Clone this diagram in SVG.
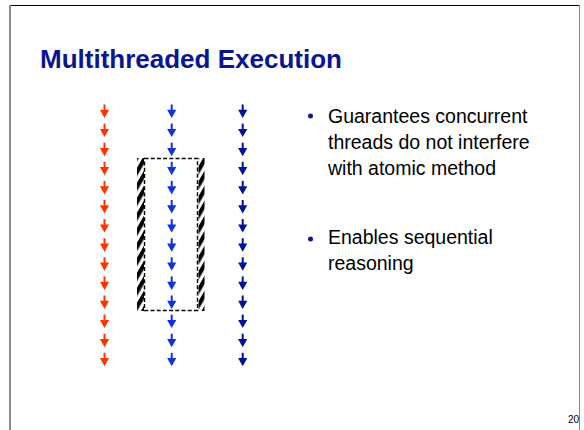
<svg xmlns="http://www.w3.org/2000/svg" xmlns:xlink="http://www.w3.org/1999/xlink" width="584" height="430" viewBox="0 0 584 430">
  <style>
    .title { font-family: "Liberation Sans", Arial, sans-serif; font-weight: bold; font-size: 26px; fill: #0a1690; }
    .body { font-family: "Liberation Sans", Arial, sans-serif; font-size: 19.5px; fill: #000000; }
    .pageno { font-family: "Liberation Sans", Arial, sans-serif; font-size: 10px; fill: #000000; }
    .bullet { fill: #10169a; }
    .red { fill: #ff3300; }
    .blue { fill: #1133dd; }
    .navy { fill: #001199; }
    .frame-top { stroke: #000000; stroke-width: 1; }
    .frame-side { stroke: #888888; }
    .dash { fill: none; stroke: #000000; stroke-width: 1.4; stroke-dasharray: 4 2.2; }
  </style>
  <defs>
    <!-- one step of a thread: short shaft plus arrowhead, tip at origin -->
    <g id="step">
      <rect x="-1" y="-13.5" width="2" height="6"/>
      <polygon points="-4.6,-8.2 4.6,-8.2 0,0"/>
    </g>
    <!-- slanted black hatching for the block edges -->
    <pattern id="hatch" patternUnits="userSpaceOnUse" width="7.5" height="8" patternTransform="rotate(30)">
      <rect x="0" y="0" width="4.2" height="8" fill="#000000"/>
    </pattern>
  </defs>

  <!-- slide frame -->
  <line class="frame-top" x1="9" y1="5.5" x2="580" y2="5.5"/>
  <line class="frame-side" x1="10" y1="5" x2="10" y2="430" stroke-width="2"/>
  <line class="frame-side" x1="579.5" y1="5" x2="579.5" y2="430" stroke-width="1"/>

  <text id="title" class="title" x="40" y="68">Multithreaded Execution</text>

  <!-- atomic block around the middle thread -->
  <g id="atomic-block">
    <rect x="137" y="158" width="7" height="153" fill="url(#hatch)"/>
    <rect x="198.5" y="158" width="6" height="153" fill="url(#hatch)"/>
    <rect class="dash" x="144.5" y="158.5" width="53" height="152"/>
  </g>

  <g id="thread-1" class="red">
    <use xlink:href="#step" x="104.5" y="118"/>
    <use xlink:href="#step" x="104.5" y="137.1"/>
    <use xlink:href="#step" x="104.5" y="156.2"/>
    <use xlink:href="#step" x="104.5" y="175.3"/>
    <use xlink:href="#step" x="104.5" y="194.4"/>
    <use xlink:href="#step" x="104.5" y="213.5"/>
    <use xlink:href="#step" x="104.5" y="232.6"/>
    <use xlink:href="#step" x="104.5" y="251.7"/>
    <use xlink:href="#step" x="104.5" y="270.8"/>
    <use xlink:href="#step" x="104.5" y="289.9"/>
    <use xlink:href="#step" x="104.5" y="309"/>
    <use xlink:href="#step" x="104.5" y="328.1"/>
    <use xlink:href="#step" x="104.5" y="347.2"/>
    <use xlink:href="#step" x="104.5" y="366.3"/>
  </g>

  <g id="thread-2" class="blue">
    <use xlink:href="#step" x="171.7" y="118"/>
    <use xlink:href="#step" x="171.7" y="137.1"/>
    <use xlink:href="#step" x="171.7" y="156.2"/>
    <use xlink:href="#step" x="171.7" y="175.3"/>
    <use xlink:href="#step" x="171.7" y="194.4"/>
    <use xlink:href="#step" x="171.7" y="213.5"/>
    <use xlink:href="#step" x="171.7" y="232.6"/>
    <use xlink:href="#step" x="171.7" y="251.7"/>
    <use xlink:href="#step" x="171.7" y="270.8"/>
    <use xlink:href="#step" x="171.7" y="289.9"/>
    <use xlink:href="#step" x="171.7" y="309"/>
    <use xlink:href="#step" x="171.7" y="328.1"/>
    <use xlink:href="#step" x="171.7" y="347.2"/>
    <use xlink:href="#step" x="171.7" y="366.3"/>
  </g>

  <g id="thread-3" class="navy">
    <use xlink:href="#step" x="242.7" y="118"/>
    <use xlink:href="#step" x="242.7" y="137.1"/>
    <use xlink:href="#step" x="242.7" y="156.2"/>
    <use xlink:href="#step" x="242.7" y="175.3"/>
    <use xlink:href="#step" x="242.7" y="194.4"/>
    <use xlink:href="#step" x="242.7" y="213.5"/>
    <use xlink:href="#step" x="242.7" y="232.6"/>
    <use xlink:href="#step" x="242.7" y="251.7"/>
    <use xlink:href="#step" x="242.7" y="270.8"/>
    <use xlink:href="#step" x="242.7" y="289.9"/>
    <use xlink:href="#step" x="242.7" y="309"/>
    <use xlink:href="#step" x="242.7" y="328.1"/>
    <use xlink:href="#step" x="242.7" y="347.2"/>
    <use xlink:href="#step" x="242.7" y="366.3"/>
  </g>

  <g id="bullet-1">
    <circle class="bullet" cx="310.5" cy="116" r="2.5"/>
    <text class="body" x="328" y="123">Guarantees concurrent</text>
    <text class="body" x="328" y="149">threads do not interfere</text>
    <text class="body" x="328" y="175">with atomic method</text>
  </g>

  <g id="bullet-2">
    <circle class="bullet" cx="310.5" cy="239" r="2.5"/>
    <text class="body" x="328" y="244">Enables sequential</text>
    <text class="body" x="328" y="270">reasoning</text>
  </g>

  <text class="pageno" x="568" y="423">20</text>
</svg>
